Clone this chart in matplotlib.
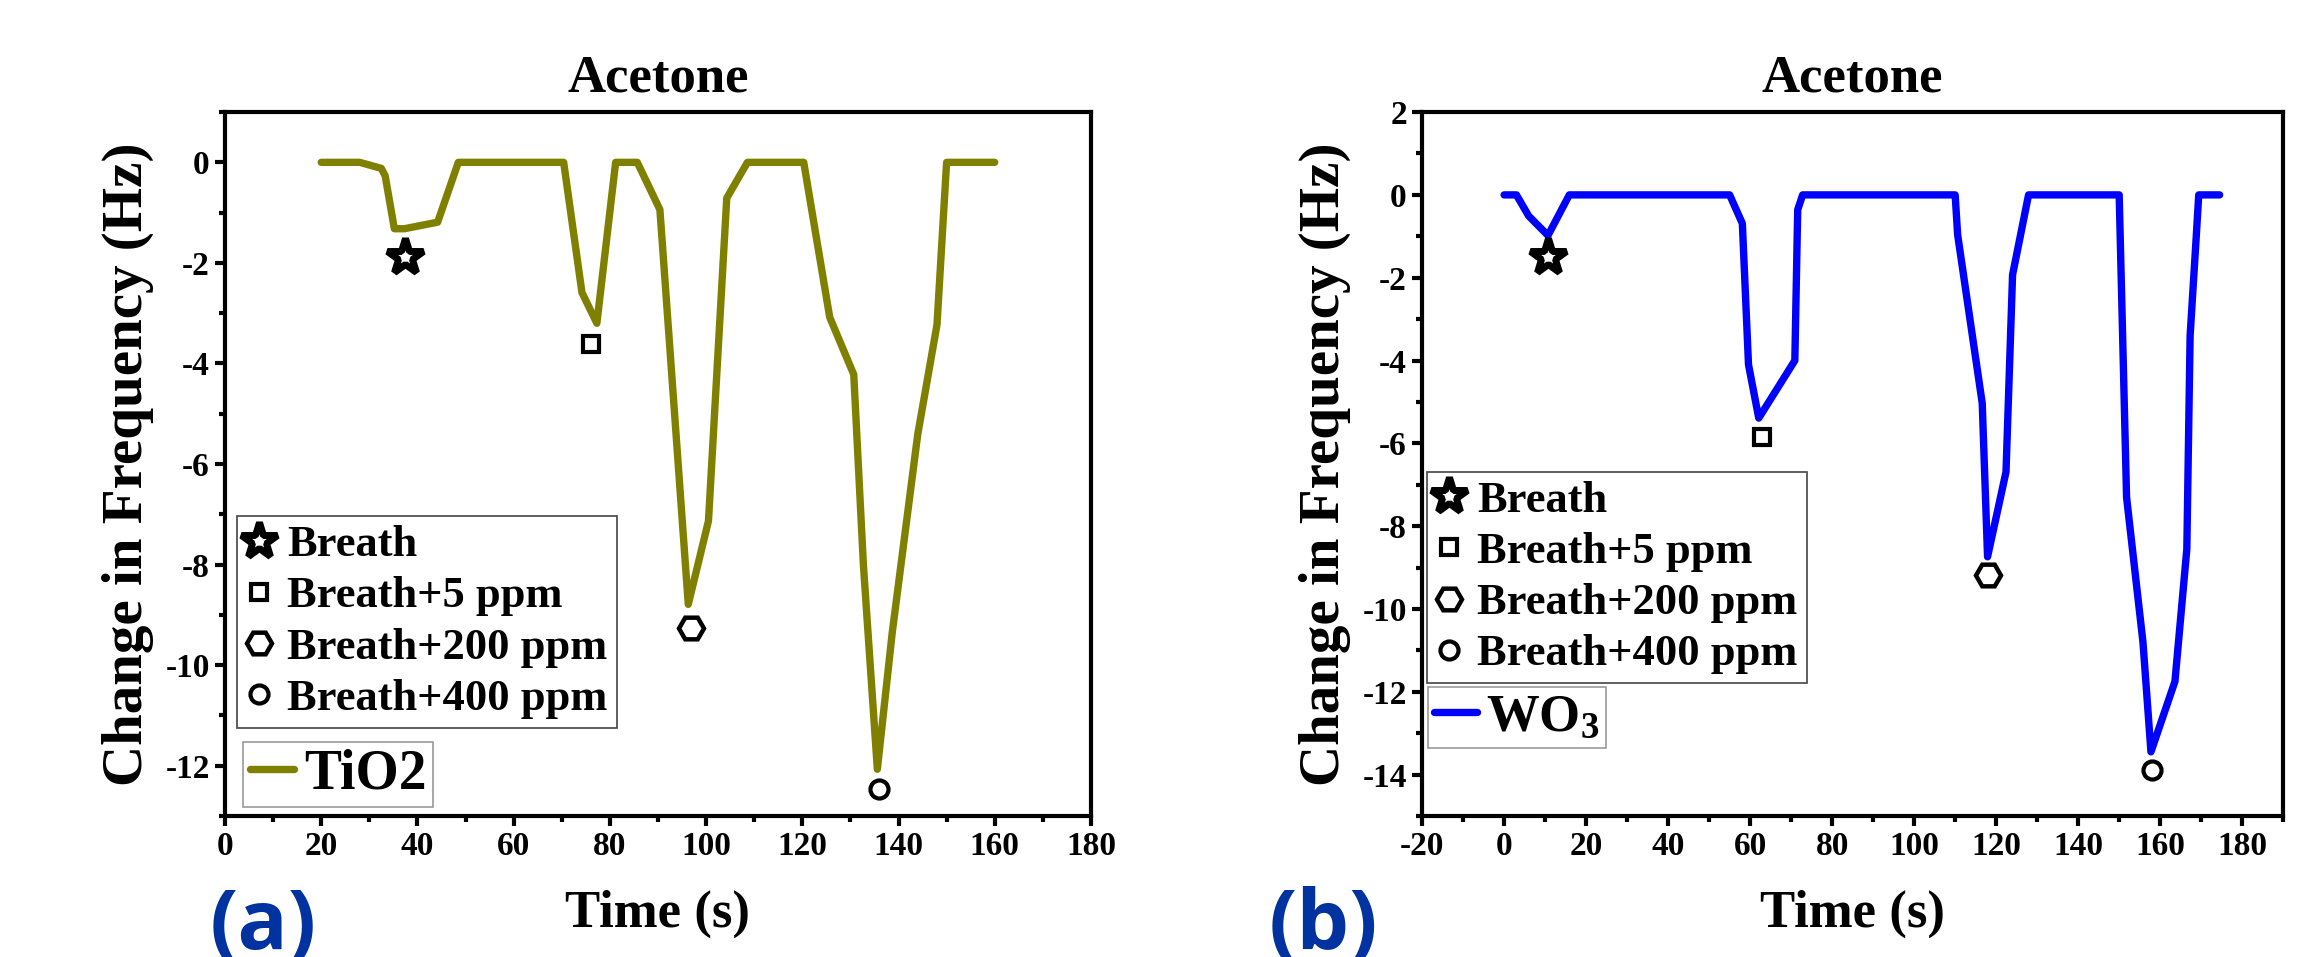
import matplotlib
matplotlib.use("Agg")
import matplotlib.pyplot as plt
from matplotlib.ticker import MultipleLocator

plt.rcParams['font.family'] = ['Liberation Serif', 'DejaVu Serif']
plt.rcParams['font.weight'] = 'bold'
plt.rcParams['axes.unicode_minus'] = False
plt.rcParams['mathtext.fontset'] = 'custom'
plt.rcParams['mathtext.rm'] = 'Liberation Serif:bold'
plt.rcParams['mathtext.bf'] = 'Liberation Serif:bold'
plt.rcParams['mathtext.it'] = 'Liberation Serif:bold'

# TiO2 response (panel a)
tio2_t = [20, 28, 32.5, 33.3, 35.2, 37.3, 44.2, 48.5, 70.4, 74.2, 77.3, 81.2, 85.7,
          90.4, 96.3, 100.5, 104.3, 108.6, 120.3, 125.7, 130.7, 132.7, 135.6,
          138.7, 144, 148, 150, 160]
tio2_f = [0, 0, -0.12, -0.27, -1.32, -1.32, -1.19, 0, 0, -2.59, -3.2, 0, 0,
          -0.94, -8.79, -7.13, -0.71, 0, 0, -3.08, -4.22, -8.0, -12.07,
          -9.35, -5.41, -3.23, 0, 0]

# WO3 response (panel b)
wo3_t = [0, 3, 6, 10.7, 15.9, 55, 58.1, 59.6, 62.1, 70.9, 71.6, 72.8, 110,
         110.6, 116.6, 117.9, 122.4, 124, 127.9, 150, 151.8, 155.8, 157.75,
         163.6, 166.5, 167.3, 168.8, 169.4, 174.5]
wo3_f = [0, 0, -0.51, -0.98, 0, 0, -0.69, -4.1, -5.39, -4.0, -0.36, 0, 0,
         -0.96, -5.03, -8.74, -6.69, -1.93, 0, 0, -7.3, -10.8, -13.45,
         -11.75, -8.55, -3.4, -1.0, 0, 0]

# marker annotations under each dip
mark_labels = ['Breath', 'Breath+5 ppm', 'Breath+200 ppm', 'Breath+400 ppm']
tio2_mark_t = [37.5, 76.1, 96.8, 136]
tio2_mark_f = [-1.88, -3.62, -9.27, -12.46]
wo3_mark_t = [10.7, 62.9, 117.9, 157.9]
wo3_mark_f = [-1.5, -5.84, -9.19, -13.9]

# marker, size, edge width
mark_styles = [('*', 27, 5), ('s', 12, 3), ('H', 18, 3.2), ('o', 13, 3)]

fig = plt.figure(figsize=(23.03, 9.57), dpi=100)
ax1 = fig.add_axes([0.0977, 0.1473, 0.376, 0.7356])
ax2 = fig.add_axes([0.6175, 0.1473, 0.3739, 0.7356])


def draw_panel(ax, t, f, color, name, mt, mf, xlim, ylim, leg1_xy, leg2_xy, name_size):
    line, = ax.plot(t, f, color=color, lw=5.3, solid_capstyle='round',
                    solid_joinstyle='round', label=name, zorder=3)
    handles = []
    for i in range(4):
        m, ms, mew = mark_styles[i]
        h, = ax.plot([mt[i]], [mf[i]], ls='none', marker=m, ms=ms, mew=mew,
                     mec='black', mfc='white', label=mark_labels[i], zorder=4)
        handles.append(h)

    ax.set_xlim(xlim)
    ax.set_ylim(ylim)
    ax.xaxis.set_major_locator(MultipleLocator(20))
    ax.xaxis.set_minor_locator(MultipleLocator(10))
    ax.yaxis.set_major_locator(MultipleLocator(2))
    ax.yaxis.set_minor_locator(MultipleLocator(1))
    ax.tick_params(which='both', direction='out', width=3, top=False, right=False)
    ax.tick_params(which='major', length=7, labelsize=24, pad=4)
    ax.tick_params(which='minor', length=4.5)
    for lab in ax.get_xticklabels() + ax.get_yticklabels():
        lab.set_fontweight('bold')
    for s in ax.spines.values():
        s.set_linewidth(3)

    ax.set_title('Acetone', fontsize=38, fontweight='bold', pad=15)
    ax.set_xlabel('Time (s)', fontsize=38, fontweight='bold', labelpad=20)
    ax.set_ylabel('Change in Frequency (Hz)', fontsize=41, fontweight='bold', labelpad=8)

    leg1 = ax.legend(handles=handles, loc='upper left', bbox_to_anchor=leg1_xy,
                     borderaxespad=0, fancybox=False, framealpha=1,
                     edgecolor='#444444', prop={'size': 32, 'weight': 'bold'},
                     handlelength=0.6, handletextpad=0.33, borderpad=0.2,
                     labelspacing=0.25)
    leg1.get_frame().set_linewidth(1.2)
    ax.add_artist(leg1)
    leg2 = ax.legend(handles=[line], loc='upper left', bbox_to_anchor=leg2_xy,
                     borderaxespad=0, fancybox=False, framealpha=1,
                     edgecolor='#999999', prop={'size': name_size, 'weight': 'bold'},
                     handlelength=0.8, handletextpad=0.18, borderpad=0.12)
    leg2.get_frame().set_linewidth(1.2)


draw_panel(ax1, tio2_t, tio2_f, '#808000', 'TiO2', tio2_mark_t, tio2_mark_f,
           (0, 180), (-13, 1), (0.014, 0.426), (0.021, 0.105), 40)
draw_panel(ax2, wo3_t, wo3_f, '#0000ff', r'WO$_{\mathbf{3}}$', wo3_mark_t, wo3_mark_f,
           (-20, 190), (-15, 2), (0.006, 0.489), (0.007, 0.183), 38)

fig.text(0.091, 0.008, '(a)', color='#0033a0', fontsize=60, fontweight='bold',
         family='Open Sans', va='baseline')
fig.text(0.551, 0.008, '(b)', color='#0033a0', fontsize=60, fontweight='bold',
         family='Open Sans', va='baseline')

fig.savefig('out.png', dpi=100)
